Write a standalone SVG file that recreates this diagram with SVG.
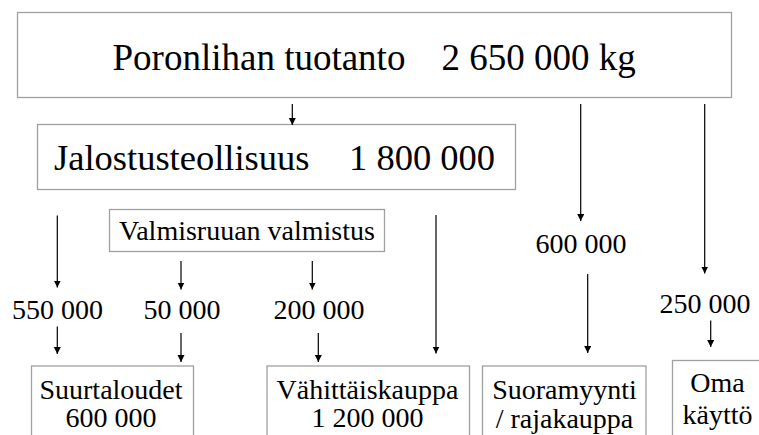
<svg xmlns="http://www.w3.org/2000/svg" width="759" height="435" viewBox="0 0 759 435">
<defs>
<marker id="ah" markerUnits="userSpaceOnUse" markerWidth="7" markerHeight="8" refX="7" refY="3.5" orient="auto">
<path d="M0,0 L7,3.5 L0,7 z" fill="#000"/>
</marker>
<style>
.box{fill:#fff;stroke:#a0a0a0;stroke-width:1.3}
text{font-family:'Liberation Serif','Times New Roman',Times,serif;fill:#000}
.big{font-size:37px}
.mid{font-size:36.5px}
.sm{font-size:28px;text-anchor:middle}
.c line{stroke:#000;stroke-width:1.2;marker-end:url(#ah)}
</style>
</defs>
<rect width="759" height="435" fill="#fff"/>
<g id="n-tuotanto">
<rect class="box" x="17.5" y="12.5" width="714" height="85"/>
<text class="big" x="112.5" y="69.5">Poronlihan tuotanto</text>
<text class="big" x="441.5" y="69.5">2 650 000 kg</text>
</g>
<g id="n-jalostus">
<rect class="box" x="37.5" y="124.5" width="478" height="65"/>
<text class="mid" x="54" y="169.5">Jalostusteollisuus</text>
<text class="mid" x="349" y="169.5">1 800 000</text>
</g>
<g id="n-valmisruoka">
<rect class="box" x="109.5" y="209.5" width="275" height="42"/>
<text class="sm" x="247" y="239.5">Valmisruuan valmistus</text>
</g>
<g id="n-suurtaloudet">
<rect class="box" x="31.5" y="366" width="162" height="80"/>
<text class="sm" x="111" y="398.5">Suurtaloudet</text>
<text class="sm" x="111" y="427">600 000</text>
</g>
<g id="n-vahittais">
<rect class="box" x="267" y="366" width="202.5" height="80"/>
<text class="sm" x="367.5" y="398.5">Vähittäiskauppa</text>
<text class="sm" x="367.5" y="427">1 200 000</text>
</g>
<g id="n-suoramyynti">
<rect class="box" x="482.5" y="366" width="163.5" height="80"/>
<text class="sm" x="564.5" y="398.5">Suoramyynti</text>
<text class="sm" x="564.5" y="428">/ rajakauppa</text>
</g>
<g id="n-oma">
<rect class="box" x="672.5" y="360.5" width="100" height="90"/>
<text class="sm" x="717.5" y="391.5">Oma</text>
<text class="sm" x="717.5" y="423.5">käyttö</text>
</g>
<g id="labels">
<text class="sm" x="57.5" y="318.5">550 000</text>
<text class="sm" x="182" y="318.5">50 000</text>
<text class="sm" x="319" y="318.5">200 000</text>
<text class="sm" x="581" y="252.5">600 000</text>
<text class="sm" x="705" y="312.5">250 000</text>
</g>
<g class="c" id="connectors">
<line x1="292.3" y1="104" x2="292.3" y2="125"/>
<line x1="580.7" y1="104" x2="580.7" y2="221"/>
<line x1="704.7" y1="104" x2="704.7" y2="273.5"/>
<line x1="57.3" y1="215.5" x2="57.3" y2="287.5"/>
<line x1="181" y1="261" x2="181" y2="289.5"/>
<line x1="312.3" y1="261" x2="312.3" y2="289.5"/>
<line x1="436" y1="215" x2="436" y2="353.5"/>
<line x1="57.3" y1="326.5" x2="57.3" y2="354"/>
<line x1="181" y1="333" x2="181" y2="362"/>
<line x1="318.3" y1="333" x2="318.3" y2="362"/>
<line x1="587.7" y1="274" x2="587.7" y2="353"/>
<line x1="710.7" y1="320.5" x2="710.7" y2="347"/>
</g>
</svg>
